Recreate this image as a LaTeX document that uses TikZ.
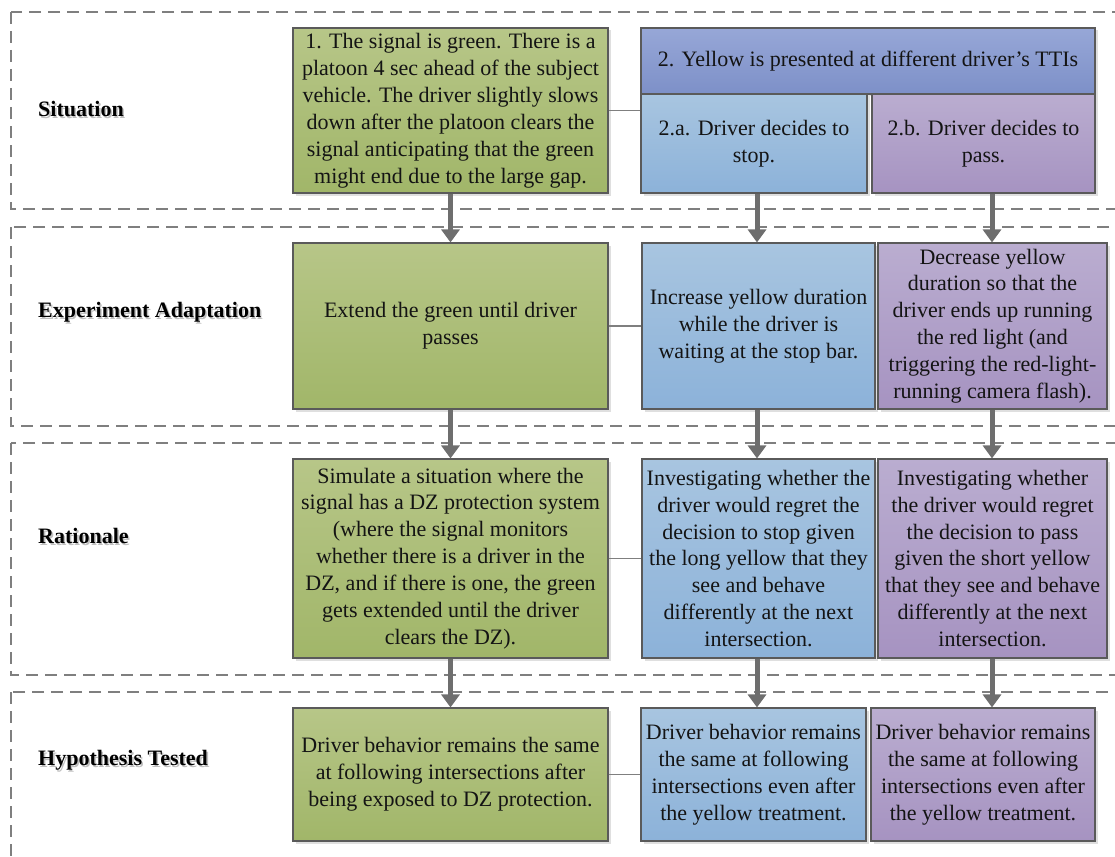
\documentclass[tikz,border=0pt]{standalone}
\usepackage{fontspec}
\setmainfont{Liberation Serif}
\usetikzlibrary{arrows.meta,shadows}
\definecolor{gtop}{HTML}{B7C688}
\definecolor{gbot}{HTML}{A1B669}
\definecolor{btop}{HTML}{A8C5E0}
\definecolor{bbot}{HTML}{8CB2D9}
\definecolor{ptop}{HTML}{BAADD0}
\definecolor{pbot}{HTML}{A693C1}
\definecolor{htop}{HTML}{97A7D7}
\definecolor{hbot}{HTML}{7D90C8}
\definecolor{boxline}{HTML}{5A5A5A}
\definecolor{bandline}{HTML}{7F7F7F}
\definecolor{arrowgray}{HTML}{6E6E6E}
\newcommand\shtext[1]{\makebox[0pt][l]{\hspace{1.6pt}\raisebox{-1.6pt}{\textcolor{black!25}{#1}}}#1}
\begin{document}
\begin{tikzpicture}[x=1pt,y=-1pt,
  box/.style={draw=boxline, line width=1.1pt, align=center, inner sep=2pt,
    font=\fontsize{22}{26.9}\selectfont, text=black!92,
    drop shadow={shadow xshift=2.5pt,shadow yshift=-2.5pt,opacity=0.25}},
  gbox/.style={box, top color=gtop, bottom color=gbot},
  bbox/.style={box, top color=btop, bottom color=bbot},
  pbox/.style={box, top color=ptop, bottom color=pbot},
  hbox/.style={box, top color=htop, bottom color=hbot},
  band/.style={draw=bandline, line width=2pt, dash pattern=on 12pt off 7pt},
  lab/.style={anchor=west, font=\fontsize{22}{26}\selectfont\bfseries, inner sep=0pt},
  arr/.style={draw=arrowgray, line width=5pt, -{Triangle[width=18pt,length=13pt]}},
  link/.style={draw=bandline, line width=1.2pt}
]
\useasboundingbox (0,0) rectangle (1115,856);
\clip (0,0) rectangle (1115,856);

% dashed bands
\draw[band] (11,12) rectangle (1140,209);
\draw[band] (11,227) rectangle (1140,426);
\draw[band] (11,443) rectangle (1140,675);
\draw[band] (11,692) rectangle (1140,900);

% band labels
\node[lab] (l1) at (38,110) {\shtext{Situation}};
\node[lab] (l2) at (38,313) {\shtext{Experiment Adaptation}};
\node[lab] (l3) at (38,537) {\shtext{Rationale}};
\node[lab] (l4) at (38,761) {\shtext{Hypothesis Tested}};

% column coordinates
\coordinate (colG) at (450.5,0);
\coordinate (colB) at (757,0);
\coordinate (colP) at (992,0);

% row 1
\node[gbox, minimum width=315pt, minimum height=165pt] (g1) at (450.5,110.5)
  {1. The signal is green. There is a\\platoon 4 sec ahead of the subject\\vehicle. The driver slightly slows\\down after the platoon clears the\\signal anticipating that the green\\might end due to the large gap.};
\node[hbox, minimum width=454pt, minimum height=66pt] (h1) at (868,61)
  {2. Yellow is presented at different driver’s TTIs};
\node[bbox, minimum width=226pt, minimum height=99pt] (b1) at (754,143.5)
  {2.a. Driver decides to\\stop.};
\node[pbox, minimum width=223pt, minimum height=99pt] (p1) at (983.5,143.5)
  {2.b. Driver decides to\\pass.};

% row 2
\node[gbox, minimum width=315pt, minimum height=166pt] (g2) at (450.5,326)
  {Extend the green until driver\\passes};
\node[bbox, minimum width=233pt, minimum height=166pt] (b2) at (758.5,326)
  {Increase yellow duration\\while the driver is\\waiting at the stop bar.};
\node[pbox, minimum width=229pt, minimum height=166pt] (p2) at (992.5,326)
  {Decrease yellow\\duration so that the\\driver ends up running\\the red light (and\\triggering the red-light-\\running camera flash).};

% row 3
\node[gbox, minimum width=315pt, minimum height=199pt] (g3) at (450.5,558.5)
  {Simulate a situation where the\\signal has a DZ protection system\\(where the signal monitors\\whether there is a driver in the\\DZ, and if there is one, the green\\gets extended until the driver\\clears the DZ).};
\node[bbox, minimum width=233pt, minimum height=199pt] (b3) at (758.5,558.5)
  {Investigating whether the\\driver would regret the\\decision to stop given\\the long yellow that they\\see and behave\\differently at the next\\intersection.};
\node[pbox, minimum width=229pt, minimum height=199pt] (p3) at (992.5,558.5)
  {Investigating whether\\the driver would regret\\the decision to pass\\given the short yellow\\that they see and behave\\differently at the next\\intersection.};

% row 4
\node[gbox, minimum width=315pt, minimum height=133pt] (g4) at (450.5,774.5)
  {Driver behavior remains the same\\at following intersections after\\being exposed to DZ protection.};
\node[bbox, minimum width=225pt, minimum height=133pt] (b4) at (753.5,774.5)
  {Driver behavior remains\\the same at following\\intersections even after\\the yellow treatment.};
\node[pbox, minimum width=224pt, minimum height=133pt] (p4) at (983,774.5)
  {Driver behavior remains\\the same at following\\intersections even after\\the yellow treatment.};

% thin links
\draw[link] (g1.east) -- (g1.east -| b1.west);
\draw[link] (g2.east) -- (b2.west);
\draw[link] (g3.east) -- (b3.west);
\draw[link] (g4.east) -- (b4.west);

% arrows
\draw[arr] (g1.south -| colG) -- (g2.north -| colG);
\draw[arr] (g2.south -| colG) -- (g3.north -| colG);
\draw[arr] (g3.south -| colG) -- (g4.north -| colG);
\draw[arr] (b1.south -| colB) -- (b2.north -| colB);
\draw[arr] (b2.south -| colB) -- (b3.north -| colB);
\draw[arr] (b3.south -| colB) -- (b4.north -| colB);
\draw[arr] (p1.south -| colP) -- (p2.north -| colP);
\draw[arr] (p2.south -| colP) -- (p3.north -| colP);
\draw[arr] (p3.south -| colP) -- (p4.north -| colP);
\end{tikzpicture}
\end{document}
